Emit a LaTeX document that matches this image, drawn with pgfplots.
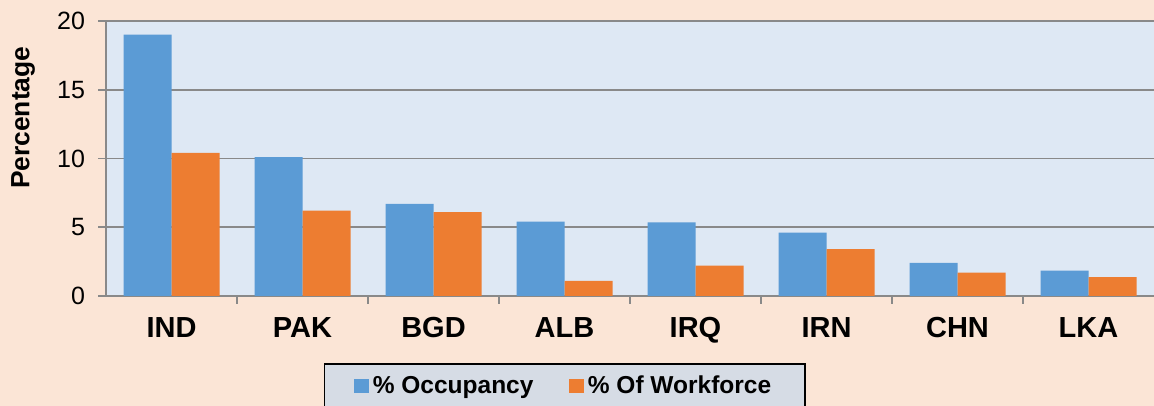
\documentclass[border=0pt]{standalone}
\usepackage{fontspec}
\setmainfont{Liberation Sans}
\usepackage{pgfplots}
\pgfplotsset{compat=1.18}
\definecolor{pagebg}{HTML}{FBE5D6}
\definecolor{plotbg}{HTML}{DEE8F4}
\definecolor{legbg}{HTML}{D6DCE5}
\definecolor{gridgray}{HTML}{898989}
\definecolor{barblue}{HTML}{5B9BD5}
\definecolor{barorange}{HTML}{ED7D31}
\pgfplotsset{sqlegend/.style={legend image code/.code={\fill[##1,draw=none] (-1.5pt,-3.6pt) rectangle (5.7pt,3.6pt);}}}
\begin{document}
\begin{tikzpicture}
\fill[pagebg] (0,0) rectangle (577pt,203pt);
\useasboundingbox (0,0) rectangle (577pt,203pt);
\begin{axis}[
  at={(53pt,55pt)}, anchor=south west,
  scale only axis, width=524pt, height=137.5pt,
  ybar=0pt, bar width=24pt,
  xmin=-0.5, xmax=7.5, ymin=0, ymax=20,
  ytick={0,5,10,15,20},
  xtick={0.5,1.5,...,6.5}, xticklabels={},
  extra x ticks={0,1,...,7},
  extra x tick labels={IND,PAK,BGD,ALB,IRQ,IRN,CHN,LKA},
  extra x tick style={major tick length=0pt, grid=none,
    xticklabel style={font=\bfseries\fontsize{14.5}{17}\selectfont, yshift=-7pt}},
  axis x line*=bottom, axis y line*=left,
  axis line style={draw=gridgray, line width=0.8pt},
  tick style={draw=gridgray, line width=0.8pt},
  tick align=outside, major tick length=4pt,
  ymajorgrids, grid style={draw=gridgray, line width=0.8pt},
  axis background/.style={fill=plotbg},
  /pgf/number format/assume math mode=true,
  yticklabel style={font=\fontsize{12.5}{15}\selectfont, xshift=-3pt},
  ylabel={Percentage},
  every axis y label/.style={at={(axis description cs:-0.079,0.648)}, rotate=90, anchor=center,
    font=\bfseries\fontsize{13.2}{16}\selectfont},
  legend columns=2,
  legend style={at={(axis description cs:0.4378,-0.2436)}, anchor=north,
    fill=legbg, draw=black, line width=0.8pt,
    font=\bfseries\fontsize{12.25}{14}\selectfont,
    inner xsep=15pt, inner ysep=4pt,
    /tikz/every even column/.append style={column sep=16pt}},
]
\addplot[fill=barblue, draw=none, sqlegend] coordinates {(0,19.0) (1,10.1) (2,6.7) (3,5.4) (4,5.35) (5,4.6) (6,2.4) (7,1.84)};
\addlegendentry{\% Occupancy}
\addplot[fill=barorange, draw=none, sqlegend] coordinates {(0,10.4) (1,6.2) (2,6.1) (3,1.1) (4,2.2) (5,3.4) (6,1.7) (7,1.38)};
\addlegendentry{\% Of Workforce}
\end{axis}
\end{tikzpicture}
\end{document}
